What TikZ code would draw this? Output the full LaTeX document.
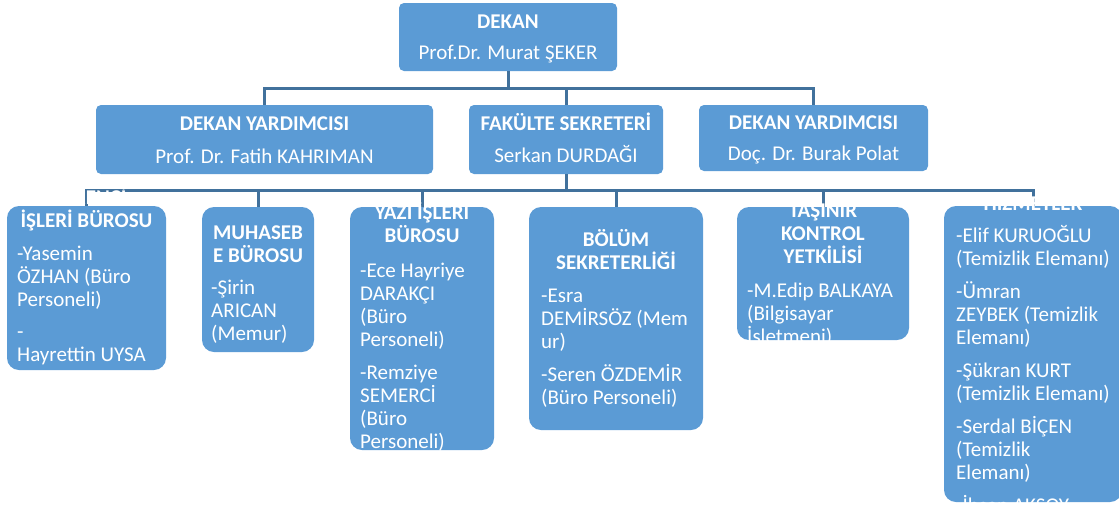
\documentclass[tikz,border=0pt]{standalone}
\usepackage{fontspec}
\setmainfont{Carlito}
\usetikzlibrary{positioning}
\definecolor{kutumavi}{RGB}{91,155,213}
\definecolor{hatmavi}{RGB}{65,113,156}
\newcommand{\ustdestek}{\rule{0pt}{19pt}}

\begin{document}
\begin{tikzpicture}[x=1pt, y=-1pt]
		\tikzset{kutu/.style={rectangle, rounded corners=12pt, fill=kutumavi, inner sep=0, outer sep=0}}
		\tikzset{ustkutu/.style={kutu, rounded corners=5pt}}
		\tikzset{yazi/.style={text=white, inner sep=0, font=\fontsize{21}{23}\selectfont}}
		\tikzset{baslik/.style={yazi, font=\fontsize{21}{23}\selectfont\bfseries, align=center, anchor=north}}
		\tikzset{govde/.style={yazi, align=left, anchor=north west}}
		\tikzset{hat/.style={draw=hatmavi, line width=3pt}}
		\useasboundingbox (0,0) rectangle (1119,509);
		% kutular
		\node[ustkutu, minimum width=218pt, minimum height=68pt] at (508, 37) (dekan) {};
		\node[ustkutu, minimum width=337pt, minimum height=69pt] at (264.5, 139.5) (yrd1) {};
		\node[ustkutu, minimum width=194pt, minimum height=69pt] at (566, 139.5) (sekreter) {};
		\node[ustkutu, minimum width=229pt, minimum height=66pt] at (813.5, 138) (yrd2) {};
		\node[kutu, minimum width=159pt, minimum height=164pt] at (86.5, 288) (isleri) {};
		\node[kutu, minimum width=112pt, minimum height=145pt] at (258, 279.5) (muhasebe) {};
		\node[kutu, minimum width=144pt, minimum height=243pt] at (422, 328.5) (yazi) {};
		\node[kutu, minimum width=174pt, minimum height=223pt] at (616, 318.5) (bolum) {};
		\node[kutu, minimum width=172pt, minimum height=133pt] at (823, 273.5) (tasinir) {};
		\node[kutu, minimum width=178pt, minimum height=296pt] at (1033, 354) (hizmet) {};
		% baglantilar
		\draw[hat] (dekan.south) -- ++(0,17) -| (yrd1.north);
		\draw[hat] (dekan.south) -- ++(0,17) -| (sekreter.north);
		\draw[hat] (dekan.south) -- ++(0,17) -| (yrd2.north);
		\draw[hat] (sekreter.south) -- ++(0,16) -| (isleri.north);
		\draw[hat] (sekreter.south) -- ++(0,16) -| (muhasebe.north);
		\draw[hat] (sekreter.south) -- ++(0,16) -| (yazi.north);
		\draw[hat] (sekreter.south) -- ++(0,16) -| (bolum.north);
		\draw[hat] (sekreter.south) -- ++(0,16) -| (tasinir.north);
		\draw[hat] (sekreter.south) -- ++(0,16) -| (hizmet.north);
		% yazilar
		\node[baslik] at (508, 8.8) (dekan-yazi) {\ustdestek DEKAN\\[8pt]\mdseries Prof.Dr. Murat ŞEKER};
		\node[baslik] at (264.5, 110.8) (yrd1-yazi) {\ustdestek DEKAN YARDIMCISI\\[10pt]\mdseries Prof. Dr. Fatih KAHRIMAN};
		\node[baslik] at (566, 110.8) (sekreter-yazi) {\ustdestek FAKÜLTE SEKRETERİ\\[9pt]\mdseries Serkan DURDAĞI};
		\node[baslik] at (813.5, 109.8) (yrd2-yazi) {\ustdestek DEKAN YARDIMCISI\\[8pt]\mdseries Doç. Dr. Burak Polat};
		\node[baslik] at (86.5, 184.8) (isleri-baslik) {\ustdestek ÖĞRENCİ\\İŞLERİ BÜROSU};
		\node[govde] at (17, 240.8) (isleri-govde) {\ustdestek -Yasemin\\ÖZHAN (Büro\\Personeli)\\[9pt]-\\Hayrettin UYSA};
		\node[baslik] at (258, 219.8) (muhasebe-baslik) {\ustdestek MUHASEB\\E BÜROSU};
		\node[govde] at (211, 274.8) (muhasebe-govde) {\ustdestek -Şirin\\ARICAN\\(Memur)};
		\node[baslik] at (422, 199.8) (yazi-baslik) {\ustdestek YAZI İŞLERİ\\BÜROSU};
		\node[govde] at (360, 257.8) (yazi-govde) {\ustdestek -Ece Hayriye\\DARAKÇI\\(Büro\\Personeli)\\[10pt]-Remziye\\SEMERCİ\\(Büro\\Personeli)};
		\node[baslik] at (616, 226.8) (bolum-baslik) {\ustdestek BÖLÜM\\SEKRETERLİĞİ};
		\node[govde] at (541, 282.8) (bolum-govde) {\ustdestek -Esra\\DEMİRSÖZ (Mem\\ur)\\[10pt]-Seren ÖZDEMİR\\(Büro Personeli)};
		\node[baslik] at (823, 197.8) (tasinir-baslik) {\ustdestek TAŞINIR\\KONTROL\\YETKİLİSİ};
		\node[govde] at (747, 277.8) (tasinir-govde) {\ustdestek -M.Edip BALKAYA\\(Bilgisayar\\İşletmeni)};
		\node[baslik] at (1033, 190.8) (hizmet-baslik) {\ustdestek HİZMETLER};
		\node[govde] at (956, 222.8) (hizmet-govde) {\ustdestek -Elif KURUOĞLU\\(Temizlik Elemanı)\\[10pt]-Ümran\\ZEYBEK (Temizlik\\Elemanı)\\[10pt]-Şükran KURT\\(Temizlik Elemanı)\\[10pt]-Serdal BİÇEN\\(Temizlik\\Elemanı)\\[10pt]-İhsan AKSOY};
	\end{tikzpicture}
\end{document}
